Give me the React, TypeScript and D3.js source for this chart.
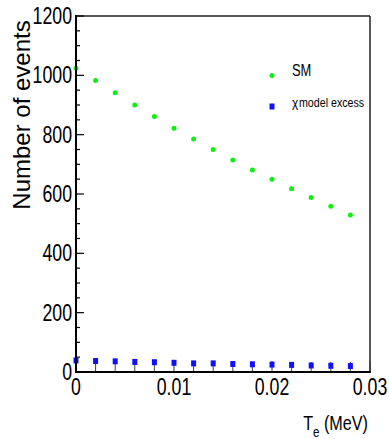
import React from "react";
import * as d3 from "d3";

const energies = [0, 0.002, 0.004, 0.006, 0.008, 0.01, 0.012, 0.014, 0.016, 0.018, 0.02, 0.022, 0.024, 0.026, 0.028];
const smValues = [1024, 983, 941, 900, 861, 822, 785, 750, 715, 681, 650, 618, 588, 559, 529];
const excessValues = [39, 37, 36, 34, 33, 31, 29, 29, 27, 26, 25, 24, 22, 21, 20];
const yTickValues = [0, 200, 400, 600, 800, 1000, 1200];
const xTickValues = [0, 0.01, 0.02, 0.03];
const xTickLabels = ["0", "0.01", "0.02", "0.03"];
const yTitle = "Number of events";
const legendLabels = ["SM", "model excess"];

const W = 389, H = 439;
const M = { left: 76, right: 370, top: 16, bottom: 372 };
const FONT = "'Liberation Sans', Arial, Helvetica, sans-serif";
const SX = 0.77;

export default function App() {
  const x = d3.scaleLinear().domain([0, 0.03]).range([M.left, M.right]);
  const y = d3.scaleLinear().domain([0, 1200]).range([M.bottom, M.top]);
  const yMinor = d3.range(0, 1201, 50).filter((v) => v % 200 !== 0);
  const xMinor = d3.range(0, 16).map((i) => i * 0.002).filter((v, i) => i % 5 !== 0);

  return (
    <svg width={W} height={H} style={{ position: "absolute", left: 0, top: 0, background: "#fff" }} fontFamily={FONT}>
      <rect width={W} height={H} fill="#fff" />
      {/* frame */}
      <line x1={M.left} x2={M.right} y1={M.top} y2={M.top} stroke="#222" strokeWidth={1.5} />
      <line x1={M.right} x2={M.right} y1={M.top} y2={M.bottom} stroke="#222" strokeWidth={1.5} />
      {/* y ticks */}
      {yTickValues.map((v) => (
        <line key={"ym" + v} x1={M.left} x2={M.left + 8} y1={y(v)} y2={y(v)} stroke="#000" strokeWidth={1.2} />
      ))}
      {yMinor.map((v) => (
        <line key={"yn" + v} x1={M.left} x2={M.left + 4} y1={y(v)} y2={y(v)} stroke="#000" strokeWidth={1.2} />
      ))}
      {/* x ticks */}
      {xTickValues.map((v) => (
        <line key={"xm" + v} x1={x(v)} x2={x(v)} y1={M.bottom} y2={M.bottom - 11} stroke="#333" strokeWidth={1} />
      ))}
      {xMinor.map((v) => (
        <line key={"xn" + v} x1={x(v)} x2={x(v)} y1={M.bottom} y2={M.bottom - 10} stroke="#444" strokeWidth={1} />
      ))}
      {/* data */}
      {energies.map((e, i) => (
        <circle key={"g" + i} cx={x(e)} cy={y(smValues[i])} r={2.5} fill="#11ee11" />
      ))}
      {energies.map((e, i) => (
        <rect key={"b" + i} x={x(e) - 2.5} y={y(excessValues[i]) - 3} width={5} height={6} fill="#1010ff" />
      ))}
      {/* axes lines */}
      <line x1={M.left} x2={M.left} y1={M.top - 1} y2={M.bottom + 1} stroke="#000" strokeWidth={2} />
      <line x1={M.left - 1} x2={M.right + 0.75} y1={M.bottom} y2={M.bottom} stroke="#000" strokeWidth={2} />
      {/* y tick labels */}
      {yTickValues.map((v) => (
        <text key={"yl" + v} transform={`translate(${M.left - 4},${y(v) + 8}) scale(${SX},1)`} textAnchor="end" fontSize={23} fill="#000">
          {v}
        </text>
      ))}
      {/* x tick labels */}
      {xTickValues.map((v, i) => (
        <text key={"xl" + v} transform={`translate(${x(v)},${M.bottom + 23}) scale(${SX},1)`} textAnchor="middle" fontSize={23} fill="#000">
          {xTickLabels[i]}
        </text>
      ))}
      {/* y title */}
      <text transform={`translate(30,115) rotate(-90)`} textAnchor="middle" fontSize={24} fill="#000">
        {yTitle}
      </text>
      {/* x title */}
      <text transform={`translate(368,430) scale(${SX},1)`} textAnchor="end" fontSize={21} fill="#000">
        <tspan>T</tspan>
        <tspan dy={7} fontSize={15}>e</tspan>
        <tspan dy={-7}> (MeV)</tspan>
      </text>
      {/* legend */}
      <circle cx={272} cy={75.5} r={2.5} fill="#11ee11" />
      <text transform={`translate(292,76) scale(0.76,1)`} fontSize={17} fill="#000">{legendLabels[0]}</text>
      <rect x={269.5} y={103.5} width={5} height={6} fill="#1010ff" />
      <text transform={`translate(292,107) scale(0.9,1)`} fontSize={13} fill="#000">χ</text>
      <text transform={`translate(299,107) scale(0.82,1)`} fontSize={13} fill="#000">{legendLabels[1]}</text>
    </svg>
  );
}
